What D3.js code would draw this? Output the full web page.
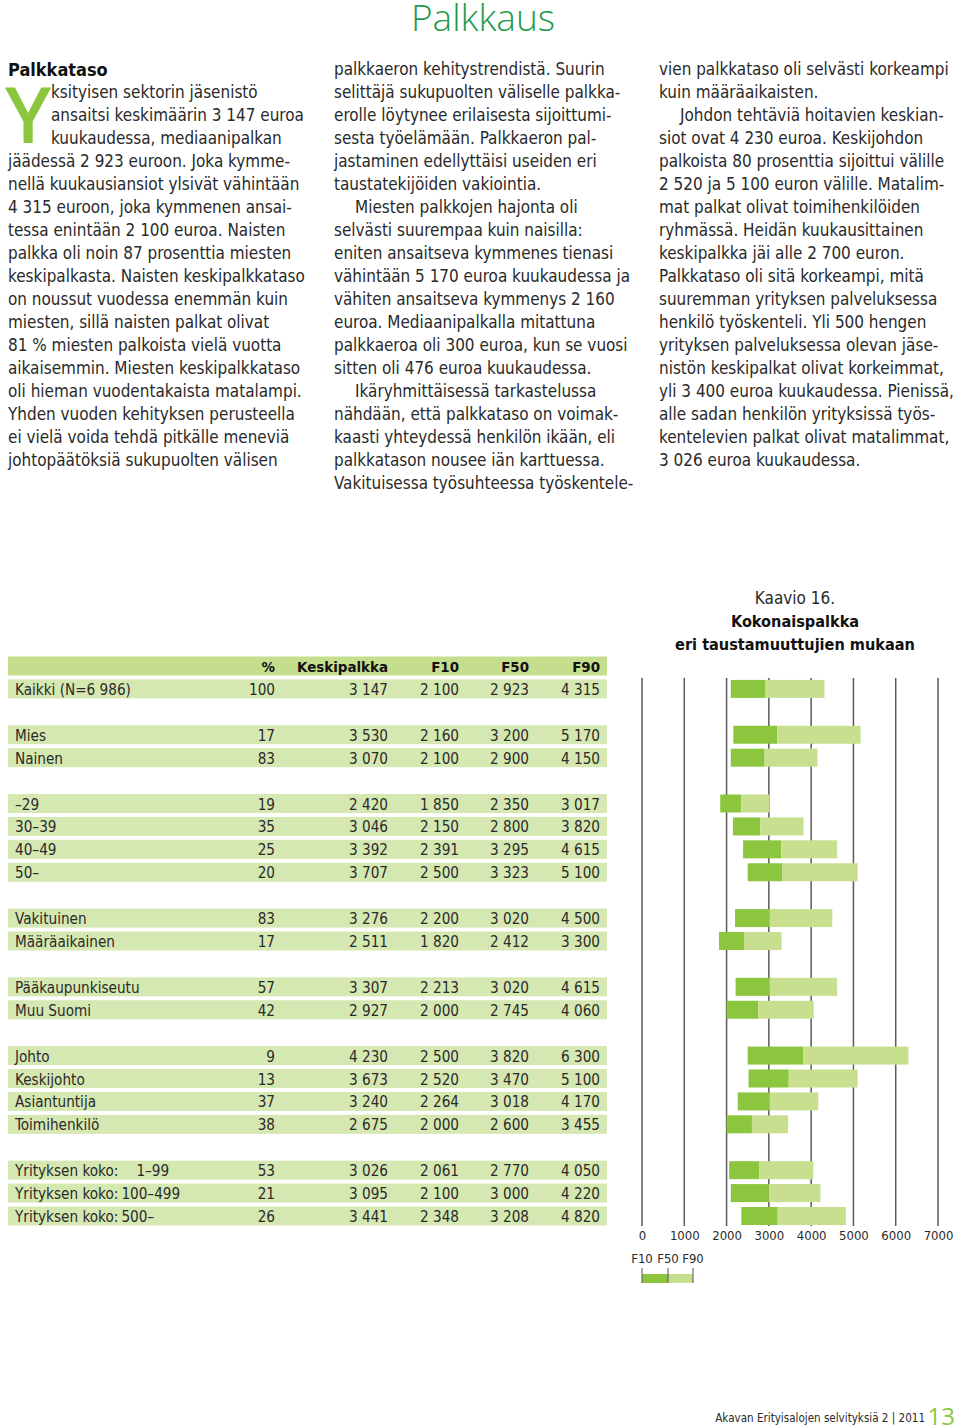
<!DOCTYPE html>
<html><head><meta charset="utf-8">
<script src="https://cdn.jsdelivr.net/npm/d3@7"></script>
<style>
html,body{margin:0;padding:0;background:#fff;}
svg{display:block;}
</style>
</head><body>
<svg id="c" width="960" height="1428"></svg>
<script>
// ---------- DATA ----------
const categories = ["Kaikki (N=6 986)", "Mies", "Nainen", "–29", "30–39", "40–49", "50–",
  "Vakituinen", "Määräaikainen", "Pääkaupunkiseutu", "Muu Suomi",
  "Johto", "Keskijohto", "Asiantuntija", "Toimihenkilö",
  "Yrityksen koko: 1–99", "Yrityksen koko: 100–499", "Yrityksen koko: 500–"];
const groups = [0,1,1,2,2,2,2,3,3,4,4,5,5,5,5,6,6,6];
const pct  = [100,17,83,19,35,25,20,83,17,57,42,9,13,37,38,53,21,26];
const mean = [3147,3530,3070,2420,3046,3392,3707,3276,2511,3307,2927,4230,3673,3240,2675,3026,3095,3441];
const f10  = [2100,2160,2100,1850,2150,2391,2500,2200,1820,2213,2000,2500,2520,2264,2000,2061,2100,2348];
const f50  = [2923,3200,2900,2350,2800,3295,3323,3020,2412,3020,2745,3820,3470,3018,2600,2770,3000,3208];
const f90  = [4315,5170,4150,3017,3820,4615,5100,4500,3300,4615,4060,6300,5100,4170,3455,4050,4220,4820];
const headers = ["%", "Keskipalkka", "F10", "F50", "F90"];
const xTicks = [0,1000,2000,3000,4000,5000,6000,7000];
const legendLabels = ["F10", "F50", "F90"];

const col1 = [
 "ksityisen sektorin jäsenistö",
 "ansaitsi keskimäärin 3 147 euroa",
 "kuukaudessa, mediaanipalkan",
 "jäädessä 2 923 euroon. Joka kymme-",
 "nellä kuukausiansiot ylsivät vähintään",
 "4 315 euroon, joka kymmenen ansai-",
 "tessa enintään 2 100 euroa. Naisten",
 "palkka oli noin 87 prosenttia miesten",
 "keskipalkasta. Naisten keskipalkkataso",
 "on noussut vuodessa enemmän kuin",
 "miesten, sillä naisten palkat olivat",
 "81 % miesten palkoista vielä vuotta",
 "aikaisemmin. Miesten keskipalkkataso",
 "oli hieman vuodentakaista matalampi.",
 "Yhden vuoden kehityksen perusteella",
 "ei vielä voida tehdä pitkälle meneviä",
 "johtopäätöksiä sukupuolten välisen"];
const col2 = [
 "palkkaeron kehitystrendistä. Suurin",
 "selittäjä sukupuolten väliselle palkka-",
 "erolle löytynee erilaisesta sijoittumi-",
 "sesta työelämään. Palkkaeron pal-",
 "jastaminen edellyttäisi useiden eri",
 "taustatekijöiden vakiointia.",
 "\tMiesten palkkojen hajonta oli",
 "selvästi suurempaa kuin naisilla:",
 "eniten ansaitseva kymmenes tienasi",
 "vähintään 5 170 euroa kuukaudessa ja",
 "vähiten ansaitseva kymmenys 2 160",
 "euroa. Mediaanipalkalla mitattuna",
 "palkkaeroa oli 300 euroa, kun se vuosi",
 "sitten oli 476 euroa kuukaudessa.",
 "\tIkäryhmittäisessä tarkastelussa",
 "nähdään, että palkkataso on voimak-",
 "kaasti yhteydessä henkilön ikään, eli",
 "palkkatason nousee iän karttuessa.",
 "Vakituisessa työsuhteessa työskentele-"];
const col3 = [
 "vien palkkataso oli selvästi korkeampi",
 "kuin määräaikaisten.",
 "\tJohdon tehtäviä hoitavien keskian-",
 "siot ovat 4 230 euroa.  Keskijohdon",
 "palkoista 80 prosenttia sijoittui välille",
 "2 520 ja 5 100 euron välille. Matalim-",
 "mat palkat olivat toimihenkilöiden",
 "ryhmässä. Heidän kuukausittainen",
 "keskipalkka jäi alle 2 700 euron.",
 "Palkkataso oli sitä korkeampi, mitä",
 "suuremman yrityksen palveluksessa",
 "henkilö työskenteli. Yli 500 hengen",
 "yrityksen palveluksessa olevan jäse-",
 "nistön keskipalkat olivat korkeimmat,",
 "yli 3 400 euroa kuukaudessa. Pienissä,",
 "alle sadan henkilön yrityksissä työs-",
 "kentelevien palkat olivat matalimmat,",
 "3 026 euroa kuukaudessa."];

// ---------- STYLE ----------
const FONT = "'Liberation Sans Narrow','DejaVu Sans Condensed','Open Sans',sans-serif";
const DARK = "#8cc63f", LIGHT = "#c7df8f", TXT = "#2a2a2a";
const svg = d3.select("#c").style("font-family", FONT);
svg.append("rect").attr("width",960).attr("height",1428).attr("fill","#fff");

function fitTo(sel, node, target, base){
  const w = node.getComputedTextLength();
  const f = base*target/w;
  sel.attr("font-size", f);
  return f;
}

// Title
svg.append("text").attr("x",483).attr("y",31).attr("text-anchor","middle")
  .attr("font-size",37).attr("fill","#1f9a4c").attr("font-family","'Open Sans',sans-serif")
  .attr("font-weight",300).text("Palkkaus");

// Body text
const body = svg.append("g").attr("fill",TXT).attr("font-size",17);
body.append("text").attr("x",8).attr("y",76).attr("font-weight","bold").attr("font-size",18)
  .attr("fill","#111").text("Palkkataso");
body.append("text").attr("x",5).attr("y",143).attr("font-size",78).attr("fill",DARK)
  .attr("font-weight",600).attr("font-family","'Open Sans',sans-serif").text("Y");
function column(lines, x, y0, firstIndentLines){
  lines.forEach((l,i)=>{
    let xx = x;
    if (i < firstIndentLines) xx = x + 43;
    let t = l;
    if (t.startsWith("\t")) { xx = x + 21; t = t.slice(1); }
    body.append("text").attr("class","bt").attr("x",xx).attr("y",y0 + i*23 + 6).text(t);
  });
}
column(col1, 8, 92, 3);
column(col2, 334, 69, 0);
column(col3, 659, 69, 0);
const refNode = body.selectAll("text.bt").filter(function(){return this.textContent===col1[8];}).node();
fitTo(body.selectAll("text.bt"), refNode, 297, 17);

// ---------- TABLE ----------
const slot = categories.map((c,i)=> i + groups[i] + 1);
const y = d3.scaleLinear().domain([0,24]).range([666,1216]);
const fmt = d3.formatLocale({decimal:",", thousands:"\u00a0", grouping:[3], currency:["","€"]}).format(",d");
const tbl = svg.append("g").attr("font-size",16.5).attr("fill",TXT);
tbl.append("rect").attr("x",8).attr("y",y(0)-9.5).attr("width",599).attr("height",19).attr("fill","#c5de8e");
tbl.selectAll("rect.row").data(categories).join("rect").attr("class","row")
  .attr("x",8).attr("y",(d,i)=>y(slot[i])-9.5).attr("width",599).attr("height",19).attr("fill","#d6e8b1");
const colRight = [275, 388, 459, 529, 600];
const hdr = tbl.selectAll("text.h").data(headers).join("text").attr("class","h")
  .attr("x",(d,i)=>colRight[i]).attr("y",y(0)+6).attr("text-anchor","end")
  .attr("font-weight","bold").attr("fill","#111").text(d=>d);
categories.forEach((c,i)=>{
  const yy = y(slot[i]) + 6;
  const lab = tbl.append("text").attr("class","tt lab").attr("x",15).attr("y",yy);
  if (c.startsWith("Yrityksen koko: ")) {
    const rest = c.replace("Yrityksen koko: ","");
    lab.append("tspan").text("Yrityksen koko:");
    lab.append("tspan").attr("dx", rest==="1–99" ? 18 : 3).text(rest);
  } else lab.text(c);
  const vals = [pct[i], mean[i], f10[i], f50[i], f90[i]];
  vals.forEach((v,j)=>{
    tbl.append("text").attr("class","tt").attr("x",colRight[j]).attr("y",yy).attr("text-anchor","end").text(j===0? v : fmt(v));
  });
});
const kNode = tbl.selectAll("text.lab").filter(function(){return this.textContent===categories[0];}).node();
fitTo(tbl.selectAll("text.tt"), kNode, 116, 16.5);
fitTo(hdr, hdr.filter(d=>d==="Keskipalkka").node(), 91, 16.5);

// ---------- CHART ----------
const x = d3.scaleLinear().domain([0,7000]).range([642,938]);
const ch = svg.append("g");
ch.append("text").attr("x",795).attr("y",604).attr("text-anchor","middle").attr("font-size",17)
  .attr("fill",TXT).text("Kaavio 16.");
const t1 = ch.append("text").attr("x",795).attr("y",627).attr("text-anchor","middle").attr("font-size",18)
  .attr("font-weight","bold").attr("fill","#111").text("Kokonaispalkka");
const t2 = ch.append("text").attr("x",795).attr("y",650).attr("text-anchor","middle").attr("font-size",18)
  .attr("font-weight","bold").attr("fill","#111").text("eri taustamuuttujien mukaan");
const tf = fitTo(t2, t2.node(), 240, 18);
t1.attr("font-size", tf);

ch.selectAll("line.grid").data(xTicks).join("line").attr("class","grid")
  .attr("x1",d=>x(d)).attr("x2",d=>x(d)).attr("y1",678).attr("y2",1226)
  .attr("stroke","#5a5a5a").attr("stroke-width",1.5);
ch.selectAll("rect.lo").data(categories).join("rect").attr("class","lo")
  .attr("x",(d,i)=>x(f10[i])).attr("width",(d,i)=>x(f50[i])-x(f10[i]))
  .attr("y",(d,i)=>y(slot[i])-9).attr("height",18).attr("fill",DARK);
ch.selectAll("rect.hi").data(categories).join("rect").attr("class","hi")
  .attr("x",(d,i)=>x(f50[i])).attr("width",(d,i)=>x(f90[i])-x(f50[i]))
  .attr("y",(d,i)=>y(slot[i])-9).attr("height",18).attr("fill",LIGHT);
const axis = d3.axisBottom(x).tickValues(xTicks).tickSize(0).tickPadding(0).tickFormat(d3.format("d"));
const ag = ch.append("g").attr("transform","translate(0,1231)").call(axis);
ag.select(".domain").remove();
ag.selectAll("text").attr("font-size",13).attr("fill",TXT).attr("font-family",FONT);

// legend
const lx = [642, 668, 693];
ch.selectAll("text.lg").data(legendLabels).join("text").attr("class","lg")
  .attr("x",(d,i)=>lx[i]).attr("y",1263).attr("text-anchor","middle").attr("font-size",13)
  .attr("fill",TXT).text(d=>d);
ch.append("rect").attr("x",lx[0]).attr("y",1274).attr("width",lx[1]-lx[0]).attr("height",9).attr("fill",DARK);
ch.append("rect").attr("x",lx[1]).attr("y",1274).attr("width",lx[2]-lx[1]).attr("height",9).attr("fill",LIGHT);
ch.selectAll("line.lt").data(lx).join("line").attr("class","lt")
  .attr("x1",d=>d).attr("x2",d=>d).attr("y1",1268).attr("y2",1283).attr("stroke","#555").attr("stroke-width",1);

// footer
const ft = svg.append("text").attr("x",925).attr("y",1422).attr("text-anchor","end").attr("font-size",13.5)
  .attr("fill",TXT).text("Akavan Erityisalojen selvityksiä 2 | 2011");
fitTo(ft, ft.node(), 210, 13.5);
svg.append("text").attr("x",955).attr("y",1425).attr("text-anchor","end").attr("font-size",24).attr("fill",DARK)
  .attr("font-family","'Open Sans',sans-serif").text("13");
</script>
</body></html>
